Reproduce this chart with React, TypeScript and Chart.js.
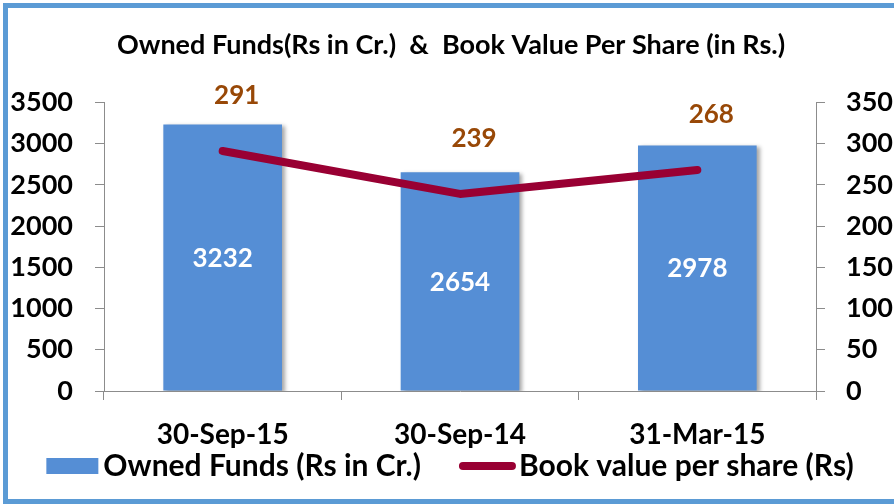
import React, { useEffect, useRef } from "react";
import { Chart, registerables } from "chart.js";

Chart.register(...registerables);

const categories = ["30-Sep-15", "30-Sep-14", "31-Mar-15"];
const ownedFunds = [3232, 2654, 2978];
const bookValue = [291, 239, 268];
const titleText = "Owned Funds(Rs in Cr.)  &  Book Value Per Share (in Rs.)";
const barLabel = "Owned Funds (Rs in Cr.)";
const lineLabel = "Book value per share (Rs)";

const FONT = "Lato";
const BAR_COLOR = "#558ED5";
const LINE_COLOR = "#990033";
const LINE_LABEL_COLOR = "#984807";
const AXIS_COLOR = "#8c8c8c";

const shadowPlugin = {
  id: "barShadow",
  beforeDatasetDraw(chart: any, args: any) {
    if (args.meta.type === "bar") {
      const ctx = chart.ctx;
      ctx.save();
      ctx.shadowColor = "rgba(0,0,0,0.35)";
      ctx.shadowBlur = 4;
      ctx.shadowOffsetX = 3;
      ctx.shadowOffsetY = 2;
    }
  },
  afterDatasetDraw(chart: any, args: any) {
    if (args.meta.type === "bar") chart.ctx.restore();
  },
};

const labelsPlugin = {
  id: "valueLabels",
  afterDatasetsDraw(chart: any) {
    const ctx = chart.ctx;
    ctx.save();
    ctx.textAlign = "center";
    ctx.textBaseline = "middle";
    chart.data.datasets.forEach((ds: any, di: number) => {
      const meta = chart.getDatasetMeta(di);
      meta.data.forEach((el: any, i: number) => {
        const v = ds.data[i];
        ctx.font = `bold 26px ${FONT}`;
        if (meta.type === "bar") {
          ctx.fillStyle = "#ffffff";
          ctx.fillText(String(v), el.x, (el.y + el.base) / 2 + 1);
        } else {
          ctx.fillStyle = LINE_LABEL_COLOR;
          ctx.fillText(String(v), el.x + 14, el.y - 55);
        }
      });
    });
    ctx.restore();
  },
};

const legendPlugin = {
  id: "customLegend",
  afterDraw(chart: any) {
    const ctx = chart.ctx;
    ctx.save();
    ctx.font = `bold 30px ${FONT}`;
    ctx.textBaseline = "middle";
    ctx.textAlign = "left";
    const w1 = ctx.measureText(barLabel).width;
    const w2 = ctx.measureText(lineLabel).width;
    const boxW = 52, gapA = 5, gapB = 38, lineW = 57, gapC = 3;
    const total = boxW + gapA + w1 + gapB + lineW + gapC + w2;
    const cy = 466;
    let x = 450 - total / 2;
    ctx.fillStyle = BAR_COLOR;
    ctx.fillRect(x, cy - 8, boxW, 16);
    x += boxW + gapA;
    ctx.fillStyle = "#000";
    ctx.fillText(barLabel, x, cy);
    x += w1 + gapB;
    ctx.strokeStyle = LINE_COLOR;
    ctx.lineWidth = 8;
    ctx.lineCap = "round";
    ctx.beginPath();
    ctx.moveTo(x + 4, cy);
    ctx.lineTo(x + lineW - 4, cy);
    ctx.stroke();
    x += lineW + gapC;
    ctx.fillText(lineLabel, x, cy);
    ctx.restore();
  },
};

const framePlugin = {
  id: "frame",
  afterDraw(chart: any) {
    const ctx = chart.ctx;
    ctx.save();
    ctx.strokeStyle = "#5B9BD5";
    ctx.lineWidth = 5;
    ctx.strokeRect(5.5, 5.5, chart.width + 10, chart.height - 8);
    ctx.restore();
  },
};

export default function App() {
  const ref = useRef<HTMLCanvasElement | null>(null);
  useEffect(() => {
    if (!ref.current) return;
    const chart = new Chart(ref.current, {
      type: "bar",
      data: {
        labels: categories,
        datasets: [
          {
            type: "bar",
            label: barLabel,
            data: ownedFunds,
            backgroundColor: BAR_COLOR,
            borderWidth: 0,
            yAxisID: "y",
            order: 1,
            barPercentage: 0.5,
            categoryPercentage: 1,
          } as any,
          {
            type: "line",
            label: lineLabel,
            data: bookValue,
            borderColor: LINE_COLOR,
            backgroundColor: LINE_COLOR,
            borderWidth: 8,
            borderCapStyle: "round",
            borderJoinStyle: "round",
            pointRadius: 0,
            yAxisID: "y1",
            order: 0,
            tension: 0,
          } as any,
        ],
      },
      options: {
        responsive: false,
        animation: false,
        layout: { padding: { left: 8, right: 0, top: 0, bottom: 56 } },
        plugins: {
          tooltip: { enabled: false },
          legend: { display: false },
          title: {
            display: true,
            text: titleText,
            color: "#000",
            font: { family: FONT, size: 27, weight: "bold" },
            padding: { top: 29, bottom: 41 },
          },
        },
        scales: {
          x: {
            offset: true,
            grid: { drawOnChartArea: false, drawTicks: true, tickLength: 9, color: AXIS_COLOR, offset: true },
            border: { display: true, color: AXIS_COLOR },
            ticks: { color: "#000", padding: 18, font: { family: FONT, size: 28, weight: "bold" }, maxRotation: 0 },
            afterFit: (s: any) => { s.height = 57; },
          },
          y: {
            position: "left",
            min: 0,
            max: 3500,
            ticks: {
              stepSize: 500,
              color: "#000",
              padding: 22,
              font: { family: FONT, size: 27, weight: "bold" },
              callback: (v: any) => String(v),
            },
            grid: { drawOnChartArea: false, drawTicks: true, tickLength: 9, color: AXIS_COLOR },
            border: { display: true, color: AXIS_COLOR },
            afterFit: (s: any) => { s.width = 96; },
          },
          y1: {
            position: "right",
            min: 0,
            max: 350,
            ticks: {
              stepSize: 50,
              color: "#000",
              padding: 21,
              font: { family: FONT, size: 27, weight: "bold" },
              callback: (v: any) => String(v),
            },
            grid: { drawOnChartArea: false, drawTicks: true, tickLength: 9, color: AXIS_COLOR },
            border: { display: true, color: AXIS_COLOR },
            afterFit: (s: any) => { s.width = 78; },
          },
        },
      },
      plugins: [shadowPlugin, labelsPlugin, legendPlugin, framePlugin],
    });
    return () => chart.destroy();
  }, []);
  return (
    <div style={{ position: "absolute", left: 0, top: 0, width: 894, height: 504, background: "#fff" }}>
      <canvas ref={ref} width={894} height={504} />
    </div>
  );
}
